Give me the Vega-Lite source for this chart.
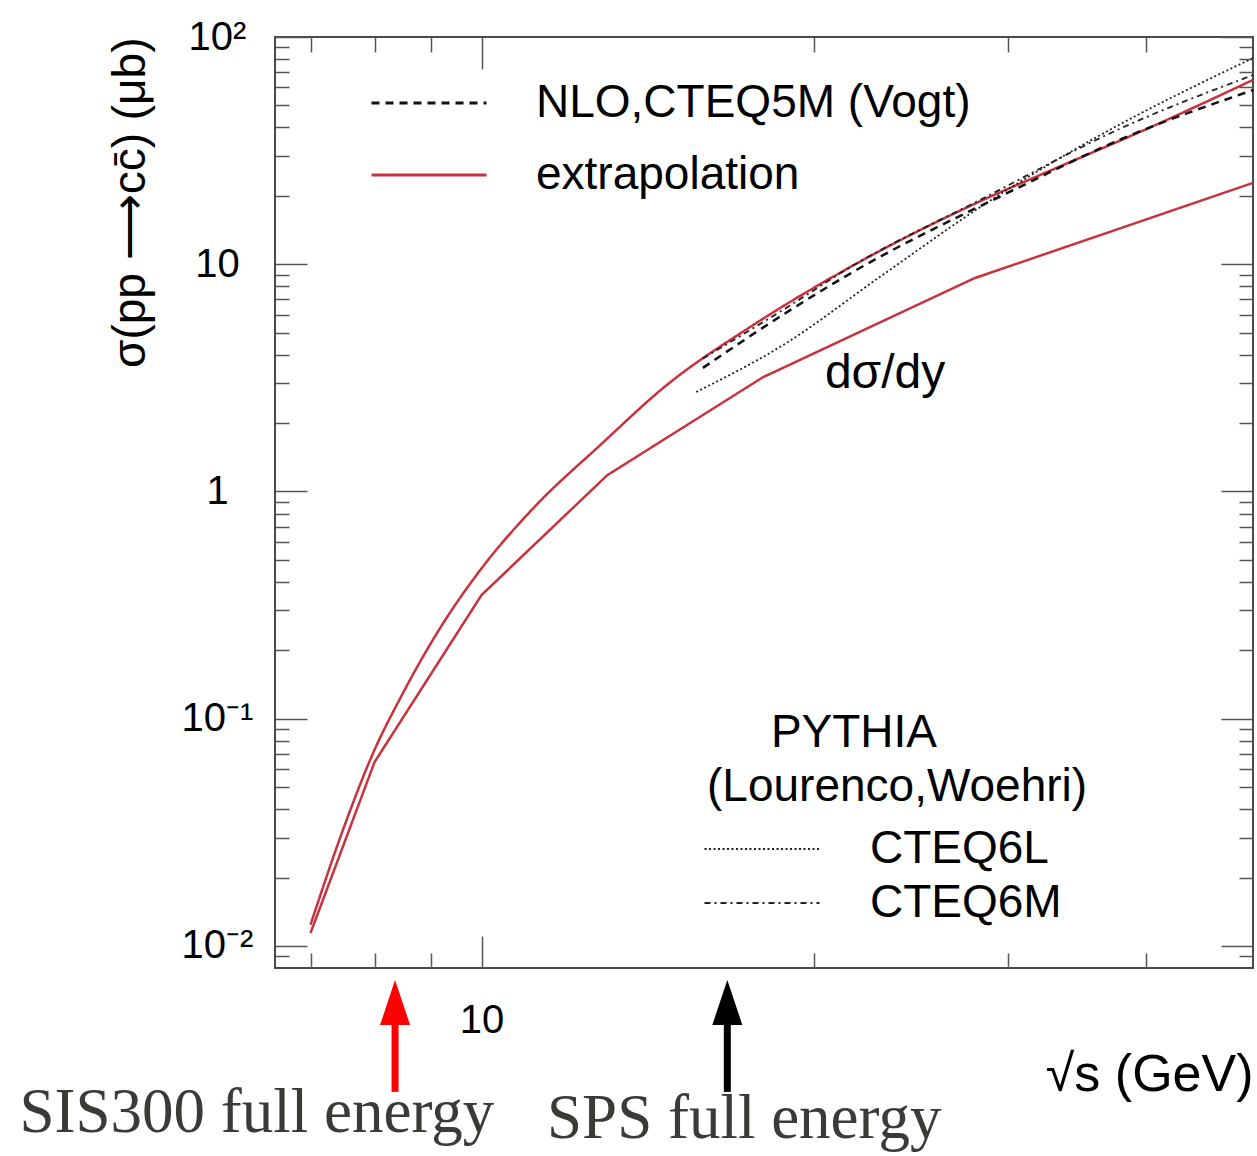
{
  "$schema": "https://vega.github.io/schema/vega-lite/v6.json",
  "width": 978,
  "height": 931,
  "autosize": "none",
  "padding": {"left": 275, "top": 37, "right": 4, "bottom": 188},
  "background": "white",
  "config": {
    "font": "Liberation Sans",
    "view": {"stroke": "#4a4a4a", "strokeWidth": 2},
    "axis": {"domain": false, "grid": false, "tickColor": "#555555", "tickWidth": 1.5}
  },
  "datasets": {
    "curves": [
      {"series": "extrapolation", "curve": "total", "sqrt_s": 7.0, "sigma": 0.0124},
      {"series": "extrapolation", "curve": "total", "sqrt_s": 7.5, "sigma": 0.033},
      {"series": "extrapolation", "curve": "total", "sqrt_s": 8.0, "sigma": 0.073},
      {"series": "extrapolation", "curve": "total", "sqrt_s": 8.44, "sigma": 0.123},
      {"series": "extrapolation", "curve": "total", "sqrt_s": 9.17, "sigma": 0.25},
      {"series": "extrapolation", "curve": "total", "sqrt_s": 9.97, "sigma": 0.45},
      {"series": "extrapolation", "curve": "total", "sqrt_s": 11.13, "sigma": 0.84},
      {"series": "extrapolation", "curve": "total", "sqrt_s": 12.81, "sigma": 1.6},
      {"series": "extrapolation", "curve": "total", "sqrt_s": 14.73, "sigma": 2.95},
      {"series": "extrapolation", "curve": "total", "sqrt_s": 17.51, "sigma": 5.29},
      {"series": "extrapolation", "curve": "total", "sqrt_s": 21.58, "sigma": 9.72},
      {"series": "extrapolation", "curve": "total", "sqrt_s": 28.48, "sigma": 19.2},
      {"series": "extrapolation", "curve": "total", "sqrt_s": 32.74, "sigma": 25.8},
      {"series": "extrapolation", "curve": "total", "sqrt_s": 40.34, "sigma": 40.0},
      {"series": "extrapolation", "curve": "total", "sqrt_s": 50.0, "sigma": 64.7},
      {"series": "NLO,CTEQ5M (Vogt)", "curve": "NLO", "sqrt_s": 15.87, "sigma": 3.5},
      {"series": "NLO,CTEQ5M (Vogt)", "curve": "NLO", "sqrt_s": 18.76, "sigma": 6.0},
      {"series": "NLO,CTEQ5M (Vogt)", "curve": "NLO", "sqrt_s": 21.58, "sigma": 9.1},
      {"series": "NLO,CTEQ5M (Vogt)", "curve": "NLO", "sqrt_s": 30.57, "sigma": 21.6},
      {"series": "NLO,CTEQ5M (Vogt)", "curve": "NLO", "sqrt_s": 37.66, "sigma": 34.9},
      {"series": "NLO,CTEQ5M (Vogt)", "curve": "NLO", "sqrt_s": 50.0, "sigma": 58.4}
    ],
    "dsigmady": [
      {"sqrt_s": 7.0, "sigma": 0.0114},
      {"sqrt_s": 8.0, "sigma": 0.0644},
      {"sqrt_s": 10.0, "sigma": 0.35},
      {"sqrt_s": 13.0, "sigma": 1.18},
      {"sqrt_s": 18.0, "sigma": 3.19},
      {"sqrt_s": 28.0, "sigma": 8.7},
      {"sqrt_s": 50.0, "sigma": 22.8}
    ],
    "pythia": [
      {"pdf": "CTEQ6L", "sqrt_s": 15.65, "sigma": 2.74},
      {"pdf": "CTEQ6L", "sqrt_s": 18.76, "sigma": 4.41},
      {"pdf": "CTEQ6L", "sqrt_s": 23.11, "sigma": 9.0},
      {"pdf": "CTEQ6L", "sqrt_s": 28.48, "sigma": 18.2},
      {"pdf": "CTEQ6L", "sqrt_s": 36.35, "sigma": 37.0},
      {"pdf": "CTEQ6L", "sqrt_s": 50.0, "sigma": 80.8},
      {"pdf": "CTEQ6M", "sqrt_s": 15.87, "sigma": 3.85},
      {"pdf": "CTEQ6M", "sqrt_s": 18.76, "sigma": 6.3},
      {"pdf": "CTEQ6M", "sqrt_s": 21.58, "sigma": 9.7},
      {"pdf": "CTEQ6M", "sqrt_s": 28.48, "sigma": 19.5},
      {"pdf": "CTEQ6M", "sqrt_s": 37.66, "sigma": 38.97},
      {"pdf": "CTEQ6M", "sqrt_s": 50.0, "sigma": 68.0}
    ],
    "arrows": [
      {"facility": "SIS300", "sqrt_s": 8.35},
      {"facility": "SPS", "sqrt_s": 16.7}
    ]
  },
  "resolve": {
    "scale": {"strokeDash": "independent", "color": "independent"},
    "axis": {"x": "independent", "y": "independent"}
  },
  "layer": [
    {
      "data": {"name": "curves"},
      "mark": {"type": "line", "interpolate": "monotone", "strokeWidth": 2.5},
      "encoding": {
        "x": {
          "field": "sqrt_s", "type": "quantitative",
          "scale": {"type": "log", "domain": [6.5, 50], "nice": false},
          "axis": {
            "orient": "bottom",
            "values": [7, 8, 9, 10, 20, 30, 40],
            "labelExpr": "datum.value == 10 ? '10' : ''",
            "tickSize": {"condition": {"test": "datum.value == 10", "value": -32}, "value": -15},
            "labelPadding": 64,
            "labelFontSize": 40,
            "labelColor": "black",
            "labelOverlap": false,
            "labelFlush": false,
            "title": "√s (GeV)",
            "titleAnchor": "end",
            "titleFontSize": 52,
            "titleFontWeight": "normal",
            "titleColor": "black",
            "titlePadding": -8
          }
        },
        "y": {
          "field": "sigma", "type": "quantitative",
          "scale": {"type": "log", "domain": [0.008, 100], "nice": false},
          "axis": {
            "orient": "left",
            "values": [0.009, 0.01, 0.02, 0.03, 0.04, 0.05, 0.06, 0.07, 0.08, 0.09, 0.1, 0.2, 0.3, 0.4, 0.5, 0.6, 0.7, 0.8, 0.9, 1, 2, 3, 4, 5, 6, 7, 8, 9, 10, 20, 30, 40, 50, 60, 70, 80, 90, 100],
            "labelExpr": "abs(log(datum.value)/LN10 - round(log(datum.value)/LN10)) > 0.001 ? '' : (datum.value > 50 ? '10²' : datum.value > 5 ? '10' : datum.value > 0.5 ? '1' : datum.value > 0.05 ? '10⁻¹' : '10⁻²')",
            "tickSize": {"condition": {"test": "abs(log(datum.value)/LN10 - round(log(datum.value)/LN10)) < 0.001", "value": -32}, "value": -14},
            "labelPadding": 90,
            "labelAlign": "center",
            "labelBaseline": "middle",
            "labelFontSize": 40,
            "labelColor": "black",
            "labelOverlap": false,
            "labelFlush": false,
            "title": "σ(pp ⟶cc̄) (μb)",
            "titleAnchor": "end",
            "titleFontSize": 46,
            "titleFontWeight": "normal",
            "titleColor": "black",
            "titlePadding": 27
          }
        },
        "detail": {"field": "curve"},
        "color": {
          "field": "series", "type": "nominal",
          "scale": {"domain": ["NLO,CTEQ5M (Vogt)", "extrapolation"], "range": ["#111111", "#c8323c"]},
          "legend": {
            "orient": "none", "legendX": 131, "legendY": 43, "title": null, "padding": 0,
            "labelFontSize": 46, "labelColor": "black", "labelFont": "Liberation Sans", "labelLimit": 0,
            "symbolType": "M-5,0H5", "symbolSize": 529, "symbolStrokeWidth": 3,
            "labelOffset": 84, "rowPadding": 26
          }
        },
        "strokeDash": {
          "field": "series", "type": "nominal",
          "scale": {"domain": ["NLO,CTEQ5M (Vogt)", "extrapolation"], "range": [[8, 6], [1, 0]]},
          "legend": {
            "orient": "none", "legendX": 131, "legendY": 43, "title": null, "padding": 0,
            "labelFontSize": 46, "labelColor": "black", "labelFont": "Liberation Sans", "labelLimit": 0,
            "symbolType": "M-5,0H5", "symbolSize": 529, "symbolStrokeWidth": 3,
            "labelOffset": 84, "rowPadding": 26
          }
        }
      }
    },
    {
      "data": {"name": "dsigmady"},
      "mark": {"type": "line", "strokeWidth": 2.5, "color": "#c8323c"},
      "encoding": {
        "x": {"field": "sqrt_s", "type": "quantitative", "scale": {"type": "log", "domain": [6.5, 50], "nice": false}, "axis": null},
        "y": {"field": "sigma", "type": "quantitative", "scale": {"type": "log", "domain": [0.008, 100], "nice": false}, "axis": null}
      }
    },
    {
      "data": {"name": "pythia"},
      "mark": {"type": "line", "interpolate": "monotone", "strokeWidth": 1.8, "color": "#222222"},
      "encoding": {
        "x": {
          "field": "sqrt_s", "type": "quantitative",
          "scale": {"type": "log", "domain": [6.5, 50], "nice": false},
          "axis": {
            "orient": "top", "values": [7, 8, 9, 10, 20, 30, 40], "labels": false, "title": null,
            "tickSize": {"condition": {"test": "datum.value == 10", "value": -32}, "value": -15}
          }
        },
        "y": {
          "field": "sigma", "type": "quantitative",
          "scale": {"type": "log", "domain": [0.008, 100], "nice": false},
          "axis": {
            "orient": "right", "labels": false, "title": null,
            "values": [0.009, 0.01, 0.02, 0.03, 0.04, 0.05, 0.06, 0.07, 0.08, 0.09, 0.1, 0.2, 0.3, 0.4, 0.5, 0.6, 0.7, 0.8, 0.9, 1, 2, 3, 4, 5, 6, 7, 8, 9, 10, 20, 30, 40, 50, 60, 70, 80, 90, 100],
            "tickSize": {"condition": {"test": "abs(log(datum.value)/LN10 - round(log(datum.value)/LN10)) < 0.001", "value": -32}, "value": -14}
          }
        },
        "strokeDash": {
          "field": "pdf", "type": "nominal",
          "scale": {"domain": ["CTEQ6L", "CTEQ6M"], "range": [[2, 2.5], [6, 4, 2, 4]]},
          "legend": {
            "orient": "none", "legendX": 432, "legendY": 674, "padding": 0,
            "title": ["\u200b\u00a0\u00a0\u00a0\u00a0\u00a0PYTHIA", "(Lourenco,Woehri)"],
            "titleFontSize": 46, "titleFontWeight": "normal", "titleColor": "black", "titleFont": "Liberation Sans",
            "titleLineHeight": 54, "titlePadding": 15, "titleLimit": 0,
            "labelFontSize": 46, "labelColor": "black", "labelFont": "Liberation Sans", "labelLimit": 0,
            "symbolType": "M-2.217,0H7.78", "symbolSize": 529, "symbolStrokeWidth": 2, "symbolStrokeColor": "#222222",
            "labelOffset": 117, "rowPadding": 8
          }
        }
      }
    },
    {
      "data": {"name": "arrows"},
      "mark": {"type": "rule", "strokeWidth": 7},
      "encoding": {
        "x": {"field": "sqrt_s", "type": "quantitative", "scale": {"type": "log", "domain": [6.5, 50], "nice": false}, "axis": null},
        "y": {"datum": 0.00228, "type": "quantitative", "scale": {"type": "log", "domain": [0.008, 100], "nice": false}, "axis": null},
        "y2": {"datum": 0.0047},
        "color": {"field": "facility", "type": "nominal", "scale": {"domain": ["SIS300", "SPS"], "range": ["#ff0000", "#000000"]}, "legend": null}
      }
    },
    {
      "data": {"name": "arrows"},
      "mark": {"type": "point", "shape": "M0,-1L0.667,1L-0.667,1Z", "filled": true, "size": 2025, "opacity": 1},
      "encoding": {
        "x": {"field": "sqrt_s", "type": "quantitative", "scale": {"type": "log", "domain": [6.5, 50], "nice": false}, "axis": null},
        "y": {"datum": 0.00564, "type": "quantitative", "scale": {"type": "log", "domain": [0.008, 100], "nice": false}, "axis": null},
        "color": {"field": "facility", "type": "nominal", "scale": {"domain": ["SIS300", "SPS"], "range": ["#ff0000", "#000000"]}, "legend": null}
      }
    },
    {
      "data": {"values": [{}]},
      "mark": {"type": "text", "font": "Liberation Serif", "fontSize": 63, "color": "#3a3a36", "align": "center", "baseline": "alphabetic"},
      "encoding": {
        "x": {"datum": 6.26, "type": "quantitative", "scale": {"type": "log", "domain": [6.5, 50], "nice": false}, "axis": null},
        "y": {"datum": 0.00152, "type": "quantitative", "scale": {"type": "log", "domain": [0.008, 100], "nice": false}, "axis": null},
        "text": {"value": "SIS300 full energy"}
      }
    },
    {
      "data": {"values": [{}]},
      "mark": {"type": "text", "font": "Liberation Serif", "fontSize": 63, "color": "#3a3a36", "align": "center", "baseline": "alphabetic"},
      "encoding": {
        "x": {"datum": 17.3, "type": "quantitative", "scale": {"type": "log", "domain": [6.5, 50], "nice": false}, "axis": null},
        "y": {"datum": 0.00143, "type": "quantitative", "scale": {"type": "log", "domain": [0.008, 100], "nice": false}, "axis": null},
        "text": {"value": "SPS full energy"}
      }
    },
    {
      "data": {"values": [{}]},
      "mark": {"type": "text", "font": "Liberation Sans", "fontSize": 48, "color": "black", "align": "left", "baseline": "alphabetic"},
      "encoding": {
        "x": {"datum": 20.47, "type": "quantitative", "scale": {"type": "log", "domain": [6.5, 50], "nice": false}, "axis": null},
        "y": {"datum": 2.85, "type": "quantitative", "scale": {"type": "log", "domain": [0.008, 100], "nice": false}, "axis": null},
        "text": {"value": "dσ/dy"}
      }
    }
  ]
}
